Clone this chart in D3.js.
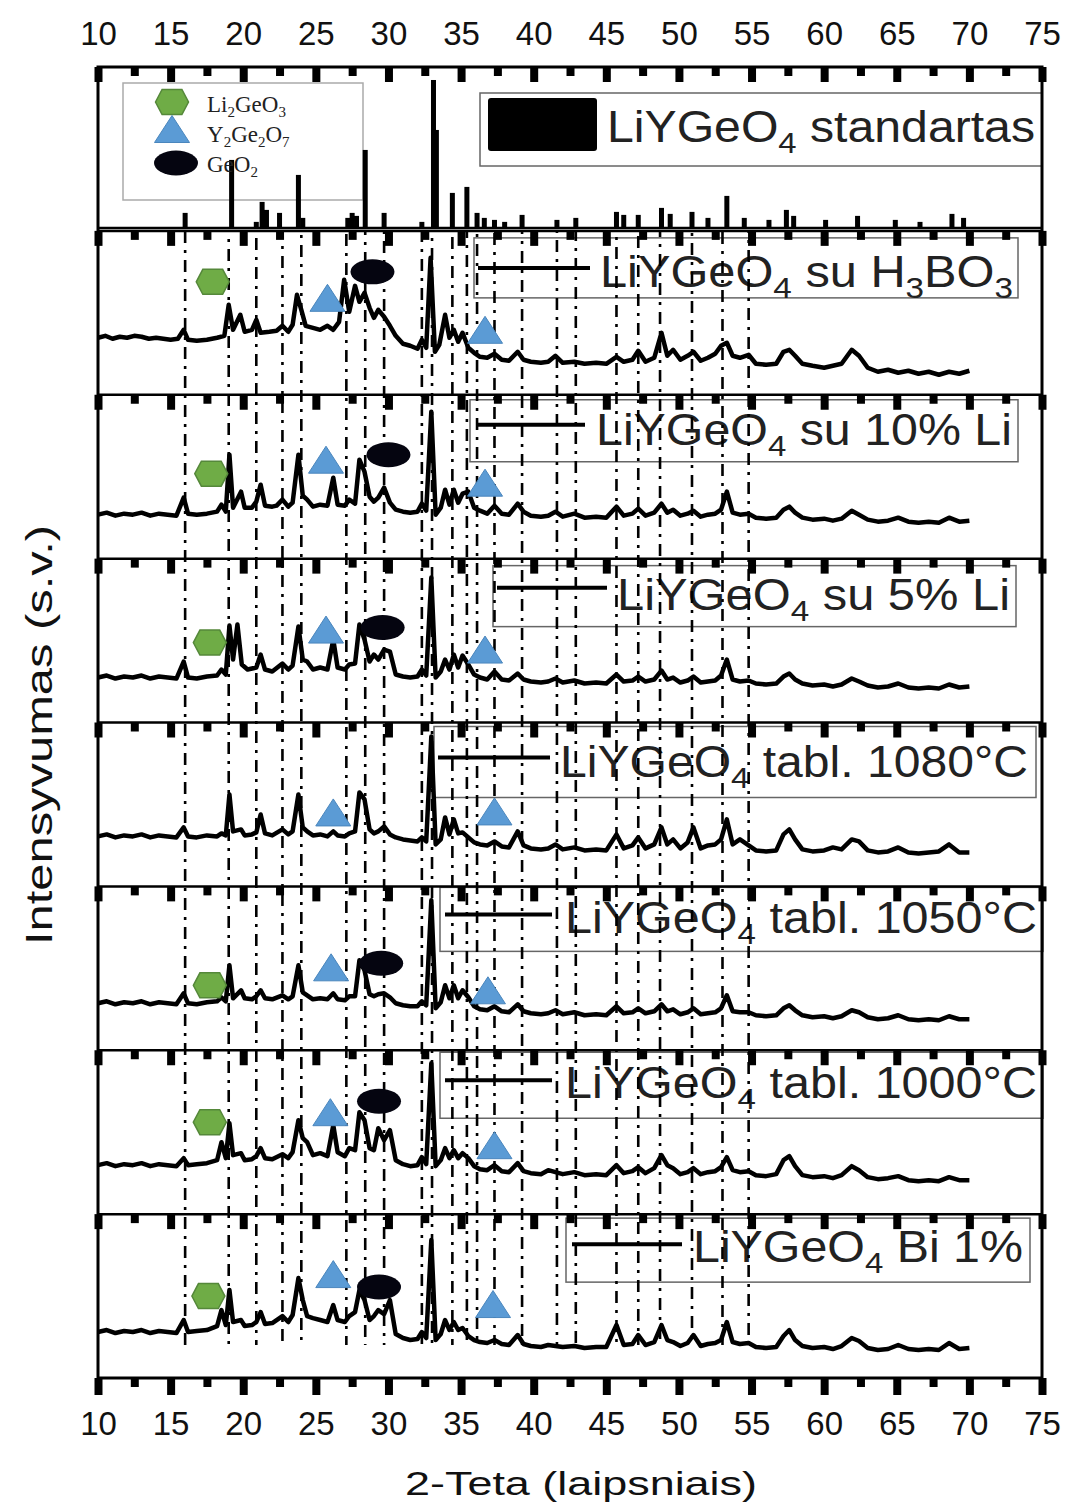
<!DOCTYPE html>
<html>
<head>
<meta charset="utf-8">
<script src="https://cdn.jsdelivr.net/npm/d3@7"></script>
<style>
  body { margin: 0; background: #fff; }
  svg { display: block; }
</style>
</head>
<body>
<svg id="chart"></svg>
<script>
// ---- data ----
// 2-theta positions of the vertical reference lines
const refLines = [16.0, 19.0, 20.9, 22.7, 24.0, 27.1, 28.4, 29.7, 32.3, 33.0, 34.4, 35.4, 36.1,
  37.3, 39.2, 41.6, 42.9, 45.7, 47.2, 48.7, 50.9, 53.0, 54.8];

// standard pattern: [2theta, intensity]
const stdBase = 30;
const stdPeaks = [[16.0,180],[19.2,710],[20.9,90],[21.3,290],[21.6,210],[22.5,180],[23.8,560],[24.1,130],
  [27.2,130],[27.5,180],[27.8,150],[28.4,810],[29.7,180],[32.3,90],[33.1,1510],[33.3,1010],[34.4,380],
  [35.4,440],[36.1,180],[36.6,130],[37.3,110],[38.0,90],[39.2,160],[41.6,110],[42.9,130],[45.7,190],
  [46.2,160],[47.2,160],[48.8,230],[49.4,170],[50.9,190],[52.0,130],[53.3,350],[54.5,130],[56.2,110],
  [57.4,210],[57.9,150],[60.1,110],[62.3,150],[64.9,110],[66.6,90],[68.8,170],[69.6,130]];

const h3bo3 = [[10,570],[10.5,590],[11,560],[11.5,580],[12,570],[12.5,590],[13,580],[13.5,560],[14,570],[14.5,560],[15,550],[15.5,560],[15.9,650],[16.2,550],[16.8,540],[17.5,550],[18.2,570],[18.7,590],[19,900],[19.3,650],[19.8,800],[20.1,630],[20.6,650],[20.9,750],[21.2,620],[21.8,630],[22.3,640],[22.7,690],[23.1,630],[23.4,700],[23.7,1000],[24,850],[24.3,690],[24.8,670],[25.3,650],[25.8,690],[26.2,650],[26.6,730],[26.95,1150],[27.3,830],[27.7,1090],[28,930],[28.35,1020],[28.7,870],[29,770],[29.3,850],[29.7,780],[30.1,690],[30.5,590],[31,510],[31.5,490],[32,460],[32.3,550],[32.6,470],[32.9,1370],[33.2,430],[33.5,500],[33.9,800],[34.2,570],[34.5,650],[34.8,530],[35.1,620],[35.5,470],[35.9,420],[36.3,380],[36.8,370],[37.3,410],[37.8,350],[38.3,340],[38.9,430],[39.3,350],[39.8,330],[40.5,320],[41,330],[41.5,390],[42,320],[42.8,330],[43.5,310],[44.3,320],[45,310],[45.7,380],[46.2,330],[46.8,350],[47.2,440],[47.7,330],[48.3,370],[48.8,620],[49.2,390],[49.6,450],[50.1,350],[50.6,390],[51,430],[51.5,340],[52,370],[52.5,410],[52.9,490],[53.3,520],[53.7,390],[54.2,370],[54.8,400],[55.3,310],[56,300],[56.7,310],[57.2,430],[57.6,450],[58,390],[58.5,310],[59.2,290],[60,270],[60.6,290],[61.2,310],[61.9,450],[62.4,390],[63,270],[63.7,230],[64.4,250],[65.1,220],[65.8,240],[66.5,210],[67.2,230],[67.9,200],[68.6,230],[69.3,210],[70,240]];

const li10 = [[10,440],[10.6,460],[11.2,430],[11.8,450],[12.4,440],[13,460],[13.6,430],[14.2,450],[14.8,440],[15.4,430],[15.9,610],[16.2,450],[16.8,440],[17.5,450],[18.2,470],[18.5,540],[18.8,470],[19.05,1040],[19.3,510],[19.85,670],[20.1,510],[20.6,510],[20.9,570],[21.2,740],[21.5,530],[22,520],[22.3,530],[22.7,590],[23.1,520],[23.4,560],[23.8,1040],[24.1,630],[24.4,590],[24.8,520],[25.3,540],[25.8,530],[26.2,810],[26.5,540],[27,530],[27.3,590],[27.7,550],[28,990],[28.35,870],[28.7,620],[29,570],[29.3,610],[29.7,710],[30.1,560],[30.5,490],[31,470],[31.5,460],[32,470],[32.3,550],[32.6,480],[32.95,1470],[33.25,440],[33.6,510],[33.9,690],[34.2,540],[34.5,690],[34.8,560],[35.1,650],[35.5,670],[35.9,510],[36.3,480],[36.8,450],[37.3,530],[37.8,450],[38.3,440],[38.9,550],[39.3,470],[39.8,430],[40.5,420],[41,430],[41.5,470],[42,420],[42.8,450],[43.5,410],[44.3,420],[45,410],[45.7,520],[46.2,430],[46.8,450],[47.2,500],[47.7,430],[48.3,460],[48.8,550],[49.2,460],[49.6,490],[50.1,430],[50.6,450],[51,480],[51.5,420],[52,440],[52.5,450],[52.9,490],[53.3,670],[53.7,460],[54.2,440],[54.8,450],[55.3,410],[56,400],[56.7,410],[57.2,490],[57.6,520],[58,460],[58.5,410],[59.2,390],[60,400],[60.6,380],[61.2,400],[61.9,480],[62.4,440],[63,390],[63.7,370],[64.4,380],[65.1,410],[65.8,370],[66.5,360],[67.2,370],[67.9,360],[68.6,410],[69.3,370],[70,380]];

const li5 = [[10,450],[10.6,470],[11.2,440],[11.8,460],[12.4,450],[13,470],[13.6,440],[14.2,460],[14.8,450],[15.4,440],[15.9,610],[16.2,450],[16.8,440],[17.5,460],[18.2,470],[18.5,530],[18.8,480],[19.05,970],[19.3,630],[19.6,980],[19.9,580],[20.3,530],[20.9,550],[21.2,680],[21.5,530],[22,510],[22.7,590],[23.1,530],[23.4,570],[23.8,960],[24.1,630],[24.4,610],[24.8,530],[25.3,550],[25.8,530],[26.2,830],[26.5,550],[27,530],[27.3,580],[27.7,590],[28,980],[28.35,830],[28.7,610],[29,680],[29.3,630],[29.7,730],[30.1,710],[30.5,480],[31,460],[31.5,450],[32,460],[32.3,530],[32.6,470],[32.95,1450],[33.25,450],[33.6,510],[33.9,630],[34.2,530],[34.5,680],[34.8,550],[35.1,670],[35.5,580],[35.9,480],[36.3,450],[36.8,430],[37.3,510],[37.8,430],[38.3,420],[38.9,490],[39.3,430],[39.8,410],[40.5,400],[41,410],[41.5,440],[42,400],[42.8,420],[43.5,390],[44.3,400],[45,390],[45.7,480],[46.2,410],[46.8,420],[47.2,460],[47.7,410],[48.3,430],[48.8,520],[49.2,430],[49.6,450],[50.1,400],[50.6,420],[51,460],[51.5,400],[52,410],[52.5,420],[52.9,470],[53.3,630],[53.7,430],[54.2,410],[54.8,420],[55.3,390],[56,380],[56.7,390],[57.2,460],[57.6,490],[58,430],[58.5,390],[59.2,370],[60,380],[60.6,360],[61.2,380],[61.9,440],[62.4,410],[63,370],[63.7,350],[64.4,360],[65.1,390],[65.8,350],[66.5,340],[67.2,350],[67.9,340],[68.6,380],[69.3,350],[70,360]];

const t1080 = [[10,500],[10.6,520],[11.2,490],[11.8,510],[12.4,500],[13,520],[13.6,490],[14.2,510],[14.8,500],[15.4,490],[15.9,590],[16.2,500],[16.8,490],[17.5,510],[18.2,500],[18.5,530],[18.8,510],[19.05,920],[19.3,550],[19.85,570],[20.1,510],[20.6,520],[20.9,540],[21.2,720],[21.5,530],[22,510],[22.7,570],[23.1,520],[23.4,550],[23.8,920],[24.1,590],[24.4,550],[24.8,510],[25.3,520],[25.8,500],[26.2,550],[26.5,510],[27,500],[27.3,530],[27.7,550],[28,940],[28.35,870],[28.7,570],[29,530],[29.3,550],[29.7,600],[30.1,520],[30.5,490],[31,470],[31.5,460],[32,450],[32.3,490],[32.6,450],[32.95,1500],[33.25,420],[33.6,470],[33.9,690],[34.2,520],[34.5,670],[34.8,530],[35.1,540],[35.5,490],[35.9,440],[36.3,420],[36.8,410],[37.3,450],[37.8,400],[38.3,390],[38.9,550],[39.3,410],[39.8,380],[40.5,370],[41,380],[41.5,420],[42,370],[42.8,390],[43.5,360],[44.3,370],[45,360],[45.7,520],[46.2,380],[46.8,410],[47.2,490],[47.7,380],[48.3,420],[48.8,590],[49.2,420],[49.6,470],[50.1,380],[50.6,440],[51,590],[51.5,380],[52,410],[52.5,420],[52.9,470],[53.3,670],[53.7,420],[54.2,470],[54.8,410],[55.3,360],[56,350],[56.7,360],[57.2,520],[57.6,570],[58,470],[58.5,370],[59.2,350],[60,360],[60.6,390],[61.2,370],[61.9,470],[62.4,450],[63,360],[63.7,340],[64.4,350],[65.1,390],[65.8,340],[66.5,330],[67.2,340],[67.9,350],[68.6,420],[69.3,340],[70,340]];

const t1050 = [[10,470],[10.6,490],[11.2,460],[11.8,480],[12.4,470],[13,490],[13.6,460],[14.2,480],[14.8,470],[15.4,460],[15.9,570],[16.2,470],[16.8,460],[17.5,480],[18.2,490],[18.5,530],[18.8,490],[19.05,850],[19.3,520],[19.85,600],[20.1,520],[20.6,510],[20.9,540],[21.2,600],[21.5,520],[22,510],[22.7,550],[23.1,510],[23.4,540],[23.8,850],[24.1,580],[24.4,550],[24.8,510],[25.3,520],[25.8,510],[26.2,570],[26.5,510],[27,500],[27.3,540],[27.7,540],[28,900],[28.35,800],[28.7,560],[29,540],[29.3,560],[29.7,570],[30.1,530],[30.5,470],[31,450],[31.5,440],[32,440],[32.3,490],[32.6,450],[32.95,1500],[33.25,420],[33.6,480],[33.9,650],[34.2,520],[34.5,650],[34.8,520],[35.1,600],[35.5,530],[35.9,440],[36.3,410],[36.8,400],[37.3,440],[37.8,390],[38.3,380],[38.9,460],[39.3,390],[39.8,370],[40.5,360],[41,370],[41.5,400],[42,360],[42.8,380],[43.5,350],[44.3,360],[45,350],[45.7,440],[46.2,370],[46.8,380],[47.2,420],[47.7,370],[48.3,390],[48.8,460],[49.2,390],[49.6,410],[50.1,360],[50.6,380],[51,420],[51.5,360],[52,370],[52.5,380],[52.9,420],[53.3,550],[53.7,390],[54.2,380],[54.8,380],[55.3,350],[56,340],[56.7,350],[57.2,420],[57.6,450],[58,400],[58.5,350],[59.2,330],[60,340],[60.6,320],[61.2,340],[61.9,400],[62.4,380],[63,330],[63.7,310],[64.4,320],[65.1,350],[65.8,310],[66.5,300],[67.2,310],[67.9,300],[68.6,340],[69.3,310],[70,310]];

const t1000 = [[10,490],[10.6,510],[11.2,480],[11.8,500],[12.4,490],[13,510],[13.6,480],[14.2,500],[14.8,490],[15.4,480],[15.9,560],[16.2,490],[16.8,500],[17.5,510],[18.2,540],[18.5,720],[18.8,560],[19.05,910],[19.3,590],[19.85,610],[20.1,540],[20.6,550],[20.9,580],[21.2,660],[21.5,560],[22,550],[22.7,600],[23.1,560],[23.4,620],[23.8,940],[24.1,760],[24.4,720],[24.8,590],[25.3,610],[25.8,580],[26.2,890],[26.5,620],[27,580],[27.3,660],[27.7,640],[28,1020],[28.35,940],[28.7,660],[29,640],[29.3,860],[29.7,740],[30.1,840],[30.5,540],[31,500],[31.5,480],[32,490],[32.3,570],[32.6,500],[32.95,1510],[33.25,480],[33.6,540],[33.9,660],[34.2,560],[34.5,640],[34.8,560],[35.1,610],[35.5,560],[35.9,480],[36.3,450],[36.8,440],[37.3,490],[37.8,430],[38.3,420],[38.9,510],[39.3,430],[39.8,410],[40.5,400],[41,440],[41.5,420],[42,400],[42.8,420],[43.5,390],[44.3,400],[45,390],[45.7,490],[46.2,410],[46.8,430],[47.2,470],[47.7,410],[48.3,460],[48.8,590],[49.2,490],[49.6,460],[50.1,400],[50.6,420],[51,460],[51.5,400],[52,420],[52.5,430],[52.9,470],[53.3,570],[53.7,440],[54.2,420],[54.8,430],[55.3,390],[56,380],[56.7,400],[57.2,540],[57.6,580],[58,480],[58.5,390],[59.2,370],[60,380],[60.6,360],[61.2,390],[61.9,480],[62.4,440],[63,370],[63.7,350],[64.4,360],[65.1,380],[65.8,340],[66.5,330],[67.2,340],[67.9,330],[68.6,370],[69.3,340],[70,340]];

const bi1 = [[10,460],[10.6,480],[11.2,450],[11.8,470],[12.4,460],[13,480],[13.6,450],[14.2,470],[14.8,460],[15.4,450],[15.9,580],[16.2,460],[16.8,470],[17.5,480],[18.2,520],[18.5,680],[18.8,530],[19.05,880],[19.3,560],[19.85,580],[20.1,520],[20.6,530],[20.9,560],[21.2,660],[21.5,540],[22,550],[22.3,580],[22.7,620],[23.1,560],[23.4,630],[23.8,1000],[24.1,780],[24.4,620],[24.8,600],[25.3,580],[25.8,560],[26.2,730],[26.5,580],[27,560],[27.3,620],[27.7,660],[28,880],[28.35,780],[28.7,580],[29,620],[29.3,680],[29.7,640],[30.1,780],[30.5,440],[31,400],[31.5,380],[32,390],[32.3,460],[32.6,400],[32.95,1380],[33.25,380],[33.6,440],[33.9,580],[34.2,480],[34.5,560],[34.8,480],[35.1,500],[35.5,420],[35.9,380],[36.3,360],[36.8,350],[37.3,380],[37.8,340],[38.3,330],[38.9,430],[39.3,340],[39.8,320],[40.5,310],[41,330],[41.5,320],[42,310],[42.8,320],[43.5,300],[44.3,310],[45,310],[45.7,530],[46.2,330],[46.8,340],[47.2,430],[47.7,330],[48.3,360],[48.8,530],[49.2,380],[49.6,360],[50.1,320],[50.6,350],[51,430],[51.5,320],[52,340],[52.5,350],[52.9,380],[53.3,560],[53.7,360],[54.2,340],[54.8,350],[55.3,310],[56,300],[56.7,310],[57.2,420],[57.6,480],[58,380],[58.5,320],[59.2,300],[60,310],[60.6,290],[61.2,320],[61.9,400],[62.4,370],[63,300],[63.7,280],[64.4,290],[65.1,330],[65.8,290],[66.5,280],[67.2,290],[67.9,280],[68.6,350],[69.3,290],[70,300]];

const samples = [h3bo3, li10, li5, t1080, t1050, t1000, bi1];
const sampleNames = ["LiYGeO_4 su H_3BO_3", "LiYGeO_4 su 10% Li", "LiYGeO_4 su 5% Li",
  "LiYGeO_4 tabl. 1080°C", "LiYGeO_4 tabl. 1050°C", "LiYGeO_4 tabl. 1000°C", "LiYGeO_4 Bi 1%"];
const stdName = "LiYGeO_4 standartas";
const phaseNames = ["Li_2GeO_3", "Y_2Ge_2O_7", "GeO_2"];

// phase markers: [panel, 2theta, intensity]
const li2geo3Marks = [[1,17.9,1130],[2,17.8,850],[3,17.7,800],[5,17.7,650],[6,17.7,920],[7,17.6,820]];
const y2ge2o7Marks = [[1,25.8,970],[1,36.65,650],[2,25.7,990],[2,36.65,760],[3,25.7,930],[3,36.65,730],
  [4,26.2,740],[4,37.3,750],[5,26.05,830],[5,36.85,600],[6,26.0,1020],[6,37.3,690],[7,26.2,1040],[7,37.2,740]];
const geo2Marks = [[1,28.9,1230],[2,30.0,1040],[3,29.6,950],[5,29.5,870],[6,29.35,1130],[7,29.35,910]];

const majorTicks = d3.range(10, 76, 5);
const minorTicks = d3.range(12.5, 75, 5);

// ---- layout ----
const W = 1066, H = 1508;
const font = "'Liberation Sans', Arial, sans-serif";
const green = "#6fac46", blue = "#5b9bd5";

// legend boxes, relative to the panel top: box [x0,x1,y0,y1], line [x0,x1,y], text [x,baseline,length]
const legendLayout = [
  {box:[474,1018,7,67],  line:[478,590,37], text:[600,56,413]},
  {box:[470,1018,5,67],  line:[476,585,30], text:[596,50,416]},
  {box:[493,1016,7,68],  line:[497,607,29], text:[617,51,393]},
  {box:[434,1036,4,75],  line:[438,550,35], text:[560,54,468]},
  {box:[440,1043,1,65],  line:[445,552,28], text:[565,47,472]},
  {box:[440,1043,2,68],  line:[445,552,30], text:[565,48,472]},
  {box:[566,1030,4,68],  line:[572,682,30], text:[693,48,330]}
];

const svg = d3.select("#chart").attr("width", W).attr("height", H)
  .style("font-family", font);

const x = d3.scaleLinear().domain([10, 75]).range([98, 1042]);
const edge = d3.scaleLinear().domain([0, 8]).range([67, 1378]);
const yPanel = i => d3.scaleLinear().domain([0, 1640]).range([edge(i + 1), edge(i)]);

// text with subscripts written as _n
function richText(sel, label, size, subSize, shift) {
  const parts = label.split(/_(\d)/);
  let down = false;
  parts.forEach((p, k) => {
    if (!p) return;
    const sub = k % 2 === 1;
    let dy = 0;
    if (sub && !down) { dy = shift; down = true; }
    else if (!sub && down) { dy = -shift; down = false; }
    sel.append("tspan").attr("font-size", sub ? subSize : size).attr("dy", dy).text(p);
  });
  return sel;
}

// ---- legends (under the reference lines) ----
const legG = svg.append("g");
samples.forEach((s, k) => {
  const i = k + 1, top = edge(i), L = legendLayout[k];
  legG.append("rect").attr("x", L.box[0]).attr("y", top + L.box[2])
    .attr("width", L.box[1] - L.box[0]).attr("height", L.box[3] - L.box[2])
    .attr("fill", "none").attr("stroke", "#666").attr("stroke-width", 1.5);
  legG.append("line").attr("x1", L.line[0]).attr("x2", L.line[1])
    .attr("y1", top + L.line[2]).attr("y2", top + L.line[2])
    .attr("stroke", "#000").attr("stroke-width", 4);
  const t = legG.append("text").attr("x", L.text[0]).attr("y", top + L.text[1])
    .attr("textLength", L.text[2]).attr("lengthAdjust", "spacingAndGlyphs").attr("fill", "#222");
  richText(t, sampleNames[k], 44, 30, 11);
});

// standard legend
legG.append("rect").attr("x", 480).attr("y", 93).attr("width", 562).attr("height", 73)
  .attr("fill", "none").attr("stroke", "#666").attr("stroke-width", 1.5);
legG.append("rect").attr("x", 488).attr("y", 98).attr("width", 109).attr("height", 53)
  .attr("rx", 3).attr("fill", "#000");
richText(legG.append("text").attr("x", 607).attr("y", 142).attr("textLength", 428)
  .attr("lengthAdjust", "spacingAndGlyphs").attr("fill", "#222"), stdName, 44, 30, 11);

// phase legend
legG.append("rect").attr("x", 123).attr("y", 83).attr("width", 240).attr("height", 117)
  .attr("fill", "none").attr("stroke", "#aaa").attr("stroke-width", 1.5);

// marker shapes
const hexPath = (w, h) => {
  const a = w / 2, b = w * 0.3, c = h / 2;
  return `M${-a},0L${-b},${-c}L${b},${-c}L${a},0L${b},${c}L${-b},${c}Z`;
};
const triPath = (w, h) => `M${-w/2},${h/2}L${w/2},${h/2}L0,${-h/2}Z`;
function drawHex(g, cx, cy) {
  g.append("path").attr("d", hexPath(33, 25)).attr("transform", `translate(${cx},${cy})`)
    .attr("fill", green).attr("stroke", "#55883a").attr("stroke-width", 1.5);
}
function drawTri(g, cx, cy) {
  g.append("path").attr("d", triPath(35, 27)).attr("transform", `translate(${cx},${cy})`)
    .attr("fill", blue).attr("stroke", "#4a86bd").attr("stroke-width", 1);
}
function drawOval(g, cx, cy) {
  g.append("ellipse").attr("cx", cx).attr("cy", cy).attr("rx", 22).attr("ry", 12.5)
    .attr("fill", "#050510");
}

// ---- reference lines ----
svg.append("g").selectAll("line").data(refLines).join("line")
  .attr("x1", d => x(d)).attr("x2", d => x(d))
  .attr("y1", edge(1)).attr("y2", edge(8) - 33)
  .attr("stroke", "#000").attr("stroke-width", 2.6)
  .attr("stroke-dasharray", "12,7,3,7")
  .attr("stroke-dashoffset", (d, i) => (i * 11) % 29);

// ---- standard pattern ----
const y0 = yPanel(0);
const stdG = svg.append("g");
stdG.append("line").attr("x1", x(10)).attr("x2", x(75)).attr("y1", y0(stdBase)).attr("y2", y0(stdBase))
  .attr("stroke", "#000").attr("stroke-width", 2.5);
stdG.selectAll("rect").data(stdPeaks).join("rect")
  .attr("x", d => x(d[0]) - 2.5).attr("width", 5)
  .attr("y", d => y0(d[1])).attr("height", d => y0(stdBase) - y0(d[1]))
  .attr("fill", "#000");

// ---- measured patterns ----
samples.forEach((s, k) => {
  const y = yPanel(k + 1);
  const line = d3.line().x(d => x(d[0])).y(d => y(d[1]));
  svg.append("path").datum(s).attr("d", line)
    .attr("fill", "none").attr("stroke", "#000").attr("stroke-width", 4.5)
    .attr("stroke-linejoin", "round");
});

// ---- markers ----
const mk = svg.append("g");
li2geo3Marks.forEach(([p, t, v]) => drawHex(mk, x(t), yPanel(p)(v)));
y2ge2o7Marks.forEach(([p, t, v]) => drawTri(mk, x(t), yPanel(p)(v)));
geo2Marks.forEach(([p, t, v]) => drawOval(mk, x(t), yPanel(p)(v)));

// phase legend items
drawHex(mk, 172, 102);
drawTri(mk, 172, 129);
drawOval(mk, 176, 163);
phaseNames.forEach((n, k) => {
  richText(mk.append("text").attr("x", 207).attr("y", 112 + k * 30)
    .attr("font-family", "'Liberation Serif', 'Times New Roman', serif").attr("fill", "#222"),
    n, 23, 15, 5);
});

// ---- frame and ticks ----
const frame = svg.append("g");
frame.append("rect").attr("x", x(10)).attr("y", edge(0)).attr("width", x(75) - x(10))
  .attr("height", edge(8) - edge(0)).attr("fill", "none").attr("stroke", "#000").attr("stroke-width", 3);
d3.range(1, 8).forEach(i => {
  frame.append("line").attr("x1", x(10)).attr("x2", x(75)).attr("y1", edge(i)).attr("y2", edge(i))
    .attr("stroke", "#000").attr("stroke-width", 2.5);
});

d3.range(0, 9).forEach(i => {
  const g1 = frame.append("g").attr("transform", `translate(0,${edge(i)})`)
    .call(d3.axisBottom(x).tickValues(majorTicks).tickSize(i === 8 ? 17 : 15).tickFormat(""));
  const g2 = frame.append("g").attr("transform", `translate(0,${edge(i)})`)
    .call(d3.axisBottom(x).tickValues(minorTicks).tickSize(9).tickFormat(""));
  [g1, g2].forEach(g => {
    g.select(".domain").remove();
    g.selectAll(".tick line").attr("stroke", "#000").attr("stroke-width", 8);
  });
});

// tick labels
const topAx = svg.append("g").attr("transform", `translate(0,${edge(0)})`)
  .call(d3.axisTop(x).tickValues(majorTicks).tickSize(0).tickPadding(22));
const botAx = svg.append("g").attr("transform", `translate(0,${edge(8)})`)
  .call(d3.axisBottom(x).tickValues(majorTicks).tickSize(0).tickPadding(34));
[topAx, botAx].forEach(g => {
  g.select(".domain").remove();
  g.selectAll("text").attr("font-family", font).attr("font-size", 33).attr("fill", "#111");
});

// axis titles
svg.append("text").attr("x", 581).attr("y", 1495).attr("text-anchor", "middle")
  .attr("font-size", 34).attr("textLength", 352).attr("lengthAdjust", "spacingAndGlyphs")
  .attr("fill", "#111").text("2-Teta (laipsniais)");
svg.append("text").attr("transform", "translate(52,735) rotate(-90)").attr("text-anchor", "middle")
  .attr("font-size", 36).attr("textLength", 420).attr("lengthAdjust", "spacingAndGlyphs")
  .attr("fill", "#111").text("Intensyvumas (s.v.)");
</script>
</body>
</html>
